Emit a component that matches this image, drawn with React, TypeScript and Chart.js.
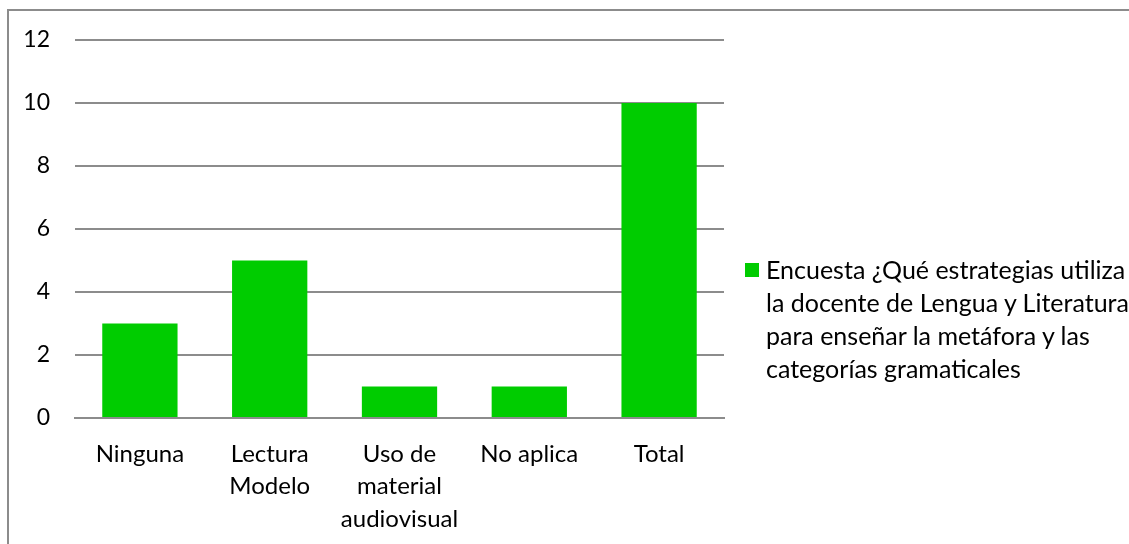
import React, { useEffect, useRef } from "react";
import { Chart, registerables } from "chart.js";

Chart.register(...registerables);

const categories: (string | string[])[] = [
  "Ninguna",
  ["Lectura", "Modelo"],
  ["Uso de", "material", "audiovisual"],
  "No aplica",
  "Total",
];
const values: number[] = [3, 5, 1, 1, 10];
const seriesLabel = "Encuesta ¿Qué estrategias utiliza la docente de Lengua y Literatura para enseñar la metáfora y las categorías gramaticales";
const legendLines: string[] = [
  "Encuesta ¿Qué estrategias utiliza",
  "la docente de Lengua y Literatura",
  "para enseñar la metáfora y las",
  "categorías gramaticales",
];
const yTicks: number[] = [0, 2, 4, 6, 8, 10, 12];

const FONT = "Lato, 'Noto Sans', sans-serif";
const GREEN = "#00cc00";
const GRID = "#8c8c8c";

export default function App() {
  const ref = useRef<HTMLCanvasElement | null>(null);

  useEffect(() => {
    document.body.style.margin = "0";
    document.body.style.overflow = "hidden";
    if (!ref.current) return;
    const chart = new Chart(ref.current, {
      type: "bar",
      data: {
        labels: categories,
        datasets: [
          {
            label: seriesLabel,
            data: values,
            backgroundColor: GREEN,
            borderWidth: 0,
            barPercentage: 0.58,
            categoryPercentage: 1,
          },
        ],
      },
      options: {
        animation: false,
        responsive: false,
        maintainAspectRatio: false,
        layout: { padding: { top: 40, right: 405, bottom: 0, left: 0 } },
        plugins: {
          legend: { display: false },
          tooltip: { enabled: false },
        },
        scales: {
          x: {
            grid: { display: false, drawTicks: false },
            border: { display: true, color: GRID, width: 2 },
            ticks: {
              color: "#000",
              font: { family: FONT, size: 24, lineHeight: 1.35 },
              padding: 20,
              maxRotation: 0,
              autoSkip: false,
            },
            afterFit: (s: any) => {
              s.height = 126;
            },
          },
          y: {
            min: 0,
            max: 12,
            afterBuildTicks: (s: any) => {
              s.ticks = yTicks.map((v) => ({ value: v }));
            },
            grid: { color: GRID, lineWidth: 2, drawTicks: false },
            border: { display: false },
            ticks: {
              color: "#000",
              font: { family: FONT, size: 23 },
              padding: 25,
            },
            afterFit: (s: any) => {
              s.width = 75;
            },
          },
        },
      },
    });
    return () => chart.destroy();
  }, []);

  return (
    <div style={{ position: "relative", width: 1129, height: 544, overflow: "hidden", background: "#fff" }}>
      <div
        style={{
          position: "absolute",
          left: 7,
          top: 9,
          width: 1200,
          height: 600,
          border: "2px solid #8c8c8c",
          boxSizing: "border-box",
        }}
      />
      <canvas ref={ref} width={1129} height={544} style={{ position: "absolute", left: 0, top: 0 }} />
      <div
        style={{
          position: "absolute",
          left: 745,
          top: 253,
          fontFamily: FONT,
          fontSize: 25,
          lineHeight: "33px",
          color: "#000",
          whiteSpace: "nowrap",
        }}
      >
        <span
          style={{
            position: "absolute",
            left: 0,
            top: 10,
            width: 14,
            height: 14,
            background: GREEN,
          }}
        />
        <div style={{ paddingLeft: 21 }}>
          {legendLines.map((l, i) => (
            <div key={i}>{l}</div>
          ))}
        </div>
      </div>
    </div>
  );
}
